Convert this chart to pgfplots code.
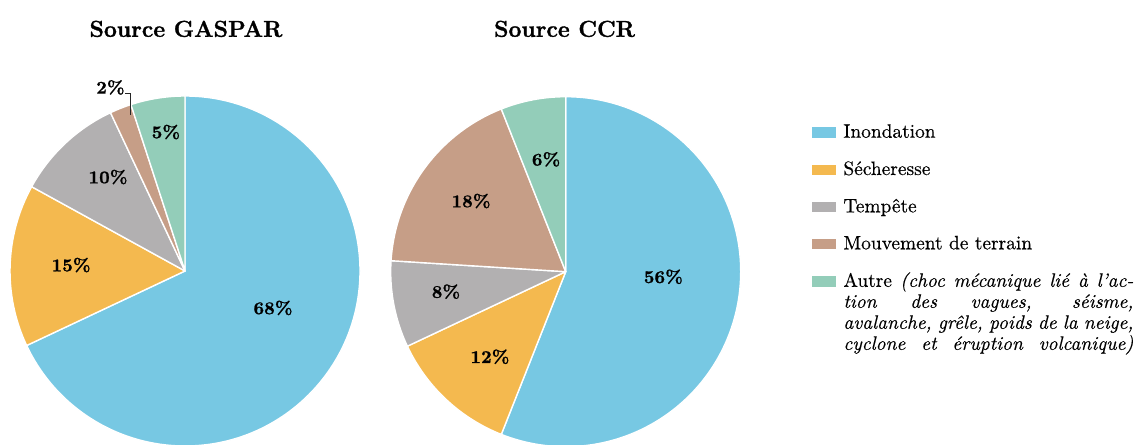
\documentclass[border=0pt]{standalone}
\usepackage{fontspec}
\setmainfont{Latin Modern Roman}
\usepackage{pgfplots}
\usepackage{pgfplotstable}
\pgfplotsset{compat=1.18}

\definecolor{cInond}{HTML}{77C8E3}
\definecolor{cSech}{HTML}{F4B94F}
\definecolor{cTemp}{HTML}{B2B0B1}
\definecolor{cMouv}{HTML}{C69E87}
\definecolor{cAutre}{HTML}{93CDB9}

% share (%), label position (axis units), colour
\pgfplotstableread{
pct lx     ly     col
68  0.503  -0.211 cInond
15  -0.651 0.034  cSech
10  -0.440 0.537  cTemp
2   -0.426 1.049  cMouv
5   -0.109 0.794  cAutre
}\gaspar

\pgfplotstableread{
pct lx     ly     col
56  0.558  -0.029 cInond
12  -0.433 -0.486 cSech
8   -0.684 -0.114 cTemp
18  -0.541 0.404  cMouv
6   -0.112 0.642  cAutre
}\ccr

\def\pieR{87.5pt}
\newcommand\pielabelfont{\fontsize{9}{10}\selectfont\bfseries\addfontfeature{FakeBold=0.8}}
\newcommand\titlefont{\fontsize{11.5}{13}\selectfont\bfseries\addfontfeature{FakeBold=1.2}}
\newcommand\legfont{\fontsize{9.7}{10.5}\selectfont\addfontfeature{FakeBold=0.4}}

\newcommand\pieslice[4]{%
  \pgfmathsetmacro\pieend{\piestart-3.6*#1}%
  \edef\piecmd{%
    \noexpand\filldraw[fill=#2,draw=white,line width=0.7pt,line join=round]
      (axis cs:0,0) -- ++(\piestart:\pieR)
      arc[start angle=\piestart,end angle=\pieend,radius=\pieR] -- cycle;
    \noexpand\node[font=\noexpand\pielabelfont] at (axis cs:#3,#4) {#1\noexpand\%};
  }%
  \piecmd
  \let\piestart\pieend
}

\newcommand\drawpie[1]{%
  \def\piestart{90}%
  \pgfplotsforeachungrouped \i in {0,...,4}{%
    \pgfplotstablegetelem{\i}{pct}\of#1\let\vp\pgfplotsretval
    \pgfplotstablegetelem{\i}{col}\of#1\let\vc\pgfplotsretval
    \pgfplotstablegetelem{\i}{lx}\of#1\let\vx\pgfplotsretval
    \pgfplotstablegetelem{\i}{ly}\of#1\let\vy\pgfplotsretval
    \pieslice{\vp}{\vc}{\vx}{\vy}%
  }%
}

\pgfplotsset{pie/.style={anchor=center, scale only axis, width=175pt, height=175pt,
  xmin=-1, xmax=1, ymin=-1, ymax=1, hide axis, clip=false}}

\begin{document}
\begin{tikzpicture}
\useasboundingbox (0,0) rectangle (569pt,222pt);
\clip (0,0) rectangle (569pt,222pt);

\begin{axis}[pie, at={(92.5pt,86.5pt)}]
  \drawpie{\gaspar}
  \draw[black!85, line width=0.5pt] (axis cs:-0.343,1.014) -- (axis cs:-0.314,1.014) -- (axis cs:-0.314,0.891);
\end{axis}

\begin{axis}[pie, at={(282.85pt,86.15pt)}]
  \drawpie{\ccr}
\end{axis}

\node[anchor=base, font=\titlefont] at (93pt,203.6pt) {Source GASPAR};
\node[anchor=base, font=\titlefont] at (282.3pt,203.6pt) {Source CCR};

% legend
\begin{scope}[every node/.style={anchor=base west, inner sep=0pt, font=\legfont}]
  \fill[cInond] (406pt,153.15pt) rectangle (418pt,158.3pt);
  \node at (421.5pt,153.15pt) {Inondation};
  \fill[cSech] (406pt,134.5pt) rectangle (418pt,139.65pt);
  \node at (421.5pt,134.5pt) {Sécheresse};
  \fill[cTemp] (406pt,115.85pt) rectangle (418pt,121pt);
  \node at (421.5pt,115.85pt) {Tempête};
  \fill[cMouv] (406pt,97.35pt) rectangle (418pt,102.5pt);
  \node at (421.5pt,97.35pt) {Mouvement de terrain};
  \fill[cAutre] (406pt,78.6pt) rectangle (418pt,83.75pt);
  \node at (421.5pt,78.6pt) {\makebox[145pt][s]{Autre \textit{(choc mécanique lié à l’ac-}}};
  \node at (421.5pt,68.1pt) {\makebox[145pt][s]{\textit{tion des vagues, séisme,}}};
  \node at (421.5pt,57.6pt) {\makebox[145pt][s]{\textit{avalanche, grêle, poids de la neige,}}};
  \node at (421.5pt,47.1pt) {\makebox[145pt][s]{\textit{cyclone et éruption volcanique)}}};
\end{scope}
\end{tikzpicture}
\end{document}
